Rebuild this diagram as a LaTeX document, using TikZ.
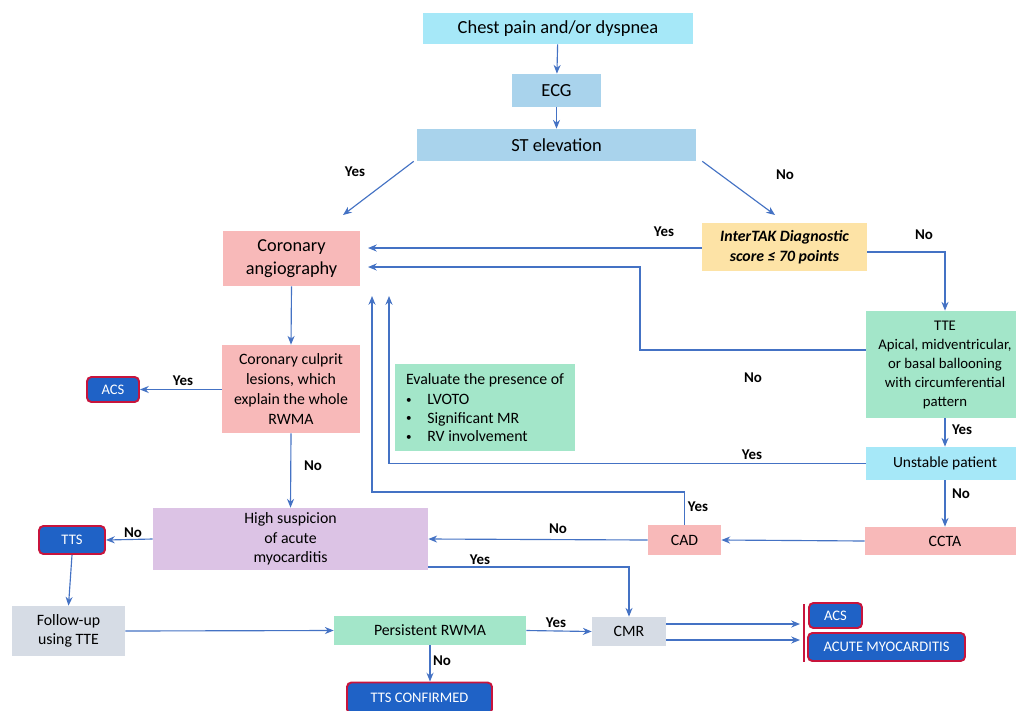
\documentclass[tikz,border=0pt]{standalone}
\usepackage{fontspec}
\setmainfont{Carlito}
\usetikzlibrary{arrows.meta,calc}
\definecolor{lnblue}{HTML}{4472C4}
\definecolor{cyanbox}{HTML}{A6E8F8}
\definecolor{stbox}{HTML}{A9D3EC}
\definecolor{pinkbox}{HTML}{F8B9B9}
\definecolor{mintbox}{HTML}{A3E6C9}
\definecolor{lavbox}{HTML}{DCC3E5}
\definecolor{yelbox}{HTML}{FDE3A6}
\definecolor{greybox}{HTML}{D6DCE5}
\definecolor{darkblue}{HTML}{1F62C6}
\definecolor{crimson}{HTML}{C8143C}
\newcommand{\bul}{\raisebox{0.15ex}{\scalebox{0.7}{\textbullet}}\hspace{1.0em}}
\tikzset{
  box/.style={inner sep=1pt, align=center, font=\fontsize{9}{11.2}\selectfont},
  bluebox/.style={rounded corners=2.5pt, fill=darkblue, draw=crimson, line width=1.1pt, text=white, inner sep=1pt, font=\fontsize{8.3}{10}\selectfont},
  arr/.style={draw=lnblue, line width=0.65pt, -{Stealth[length=5pt,width=4pt]}},
  ln/.style={draw=lnblue, line width=0.65pt},
  lbl/.style={font=\fontsize{8.5}{10}\selectfont\bfseries, inner sep=0pt},
}
\begin{document}
\begin{tikzpicture}[x=0.02cm,y=-0.02cm]
\clip (0,0) rectangle (1016,710);
\fill[white] (0,0) rectangle (1016,710);
% nodes
\node[box, fill=cyanbox, minimum width=5.40cm, minimum height=0.62cm, font=\fontsize{10.5}{12}\selectfont] (chest) at (558,28.5) {Chest pain and/or dyspnea};
\node[box, fill=stbox, minimum width=1.78cm, minimum height=0.66cm, font=\fontsize{10.5}{12}\selectfont] (ecg) at (556.5,90.5) {ECG};
\node[box, fill=stbox, minimum width=5.58cm, minimum height=0.64cm, font=\fontsize{10.5}{12}\selectfont] (st) at (556.5,145) {ST elevation};
\node[box, fill=pinkbox, minimum width=2.74cm, minimum height=1.10cm, font=\fontsize{10.4}{13}\selectfont] (angio) at (291.5,258.5) {Coronary\\angiography};
\node[box, fill=yelbox, minimum width=3.30cm, minimum height=0.96cm, font=\fontsize{9}{11.2}\selectfont\bfseries\itshape] (itak) at (784.5,247) {InterTAK Diagnostic\\score ≤ 70 points};
\node[box, fill=mintbox, minimum width=3.16cm, minimum height=2.14cm, font=\fontsize{8.4}{10.8}\selectfont] (tte) at (945,364.5) {TTE\\Apical, midventricular,\\or basal ballooning\\with circumferential\\pattern};
\node[box, fill=cyanbox, minimum width=3.16cm, minimum height=0.66cm, font=\fontsize{8.8}{10}\selectfont] (unst) at (945,463.5) {Unstable patient};
\node[box, fill=pinkbox, minimum width=3.20cm, minimum height=0.56cm] (ccta) at (945,541) {CCTA};
\node[box, fill=pinkbox, minimum width=1.46cm, minimum height=0.60cm] (cad) at (684.5,540) {CAD};
\node[box, fill=lavbox, minimum width=5.50cm, minimum height=1.24cm] (high) at (290.5,539) {High suspicion\\of acute\\myocarditis};
\node[box, fill=pinkbox, minimum width=2.76cm, minimum height=1.76cm] (culp) at (291,389) {Coronary culprit\\lesions, which\\explain the whole\\RWMA};
\node[bluebox, minimum width=1.04cm, minimum height=0.50cm] (acsl) at (113,389.5) {ACS};
\node[box, fill=mintbox, minimum width=3.60cm, minimum height=1.74cm, align=left, font=\fontsize{9}{10.6}\selectfont] (eval) at (485,407.5) {Evaluate the presence of\\[1pt]
\bul LVOTO\\
\bul Significant MR\\
\bul RV involvement};
\node[bluebox, minimum width=1.32cm, minimum height=0.56cm] (tts) at (72,540) {TTS};
\node[box, fill=greybox, minimum width=2.26cm, minimum height=1.00cm] (fup) at (68.5,631) {Follow-up\\using TTE};
\node[box, fill=mintbox, minimum width=3.84cm, minimum height=0.58cm] (pers) at (430,630.5) {Persistent RWMA};
\node[box, fill=greybox, minimum width=1.48cm, minimum height=0.58cm] (cmr) at (629,631.5) {CMR};
\node[bluebox, minimum width=1.06cm, minimum height=0.50cm] (acsr) at (835.5,615.5) {ACS};
\node[bluebox, minimum width=3.14cm, minimum height=0.56cm] (myo) at (886.5,647) {ACUTE MYOCARDITIS};
\node[bluebox, minimum width=2.90cm, minimum height=0.62cm] (ttsc) at (419.5,698) {TTS CONFIRMED};
% coordinates
\coordinate (ain1) at (368,248);
\coordinate (ain2) at (368,267);
\coordinate (aup1) at (372,296);
\coordinate (aup2) at (389,296);
\coordinate (rtop) at (804,604);
\coordinate (rbot) at (804,662);
% connectors
\draw[arr] (chest) -- (ecg);
\draw[arr] (ecg) -- (st);
\draw[arr] ([xshift=-0.06cm]st.south west) -- (343,215);
\draw[arr] ([xshift=0.12cm]st.south east) -- (775,215);
\draw[arr] (itak.west |- ain1) -- (ain1);
\draw[arr] ([yshift=-0.1cm]itak.east) -| (tte.north);
\draw[arr] (tte.west |- 0,350) -- (640,350) -- (640,267) -- (ain2);
\draw[arr] (tte.south) -- (unst.north);
\draw[arr] (unst.west) -| (aup2);
\draw[arr] (unst.south) -- (ccta.north);
\draw[arr] (ccta.west) -- (cad.east);
\draw[arr] (cad.north) |- (372,492) -- (aup1);
\draw[arr] (cad.west) -- (high.east);
\draw[arr] (angio.south) -- (culp.north);
\draw[arr] (culp.west |- acsl) -- (acsl.east);
\draw[arr] (culp.south) -- (high.north);
\draw[arr] (high.west) -- (tts.east);
\draw[arr] (tts.south) -- (fup.north);
\draw[arr] (fup.east) -- (pers.west);
\draw[arr] (pers.east) -- (cmr.west);
\draw[arr] (high.east |- 0,567) -| (cmr.north);
\draw[arr] (cmr.east |- 0,624) -- (800,624);
\draw[arr] (cmr.east |- 0,640) -- (800,640);
\draw[crimson, line width=0.8pt] (rtop) -- (rbot);
\draw[arr] (pers.south) -- (pers.south |- ttsc.north);
% labels
\node[lbl] (l1) at (355,172) {Yes};
\node[lbl] (l2) at (785,175) {No};
\node[lbl] (l3) at (664,232) {Yes};
\node[lbl] (l4) at (924,235) {No};
\node[lbl] (l5) at (753,378) {No};
\node[lbl] (l6) at (962,430) {Yes};
\node[lbl] (l7) at (752,455) {Yes};
\node[lbl] (l8) at (961,494) {No};
\node[lbl] (l9) at (698,507) {Yes};
\node[lbl] (l10) at (558,529) {No};
\node[lbl] (l11) at (183,381) {Yes};
\node[lbl] (l12) at (313,466) {No};
\node[lbl] (l13) at (133,533) {No};
\node[lbl] (l14) at (480,560) {Yes};
\node[lbl] (l15) at (556,623) {Yes};
\node[lbl] (l16) at (442,661) {No};
\end{tikzpicture}
\end{document}
